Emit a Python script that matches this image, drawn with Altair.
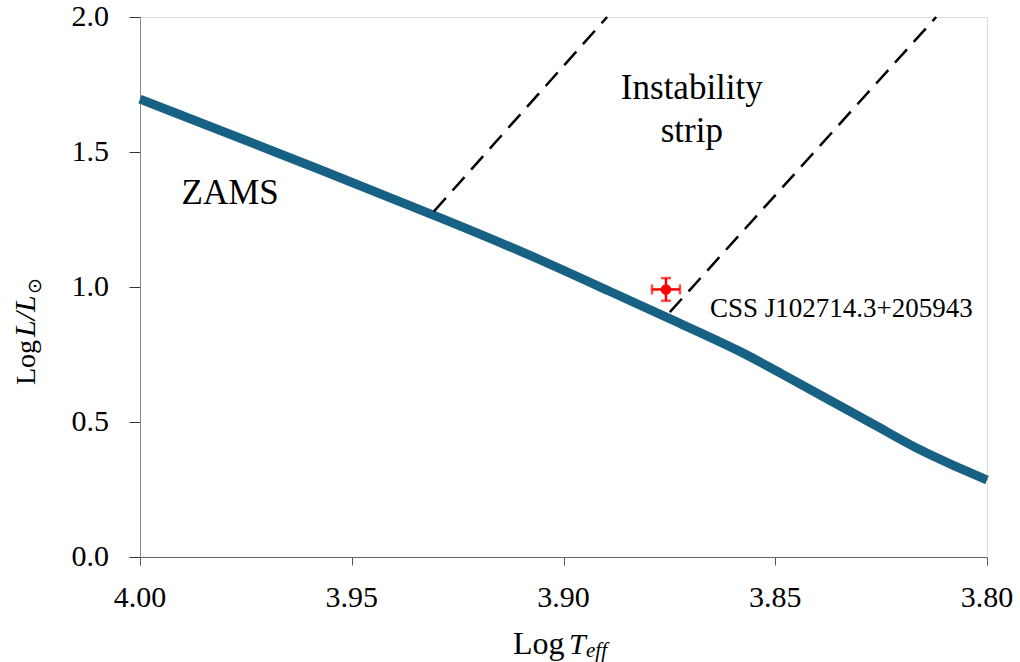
import altair as alt
import pandas as pd

# ZAMS track (log Teff, log L/Lsun)
zams_logT = [4.0000, 3.9551, 3.9268, 3.9079, 3.8890, 3.8725, 3.8583, 3.8489, 3.8394, 3.8253, 3.8158, 3.8076, 3.8000]
zams_logL = [1.696, 1.421, 1.242, 1.119, 0.983, 0.865, 0.764, 0.682, 0.600, 0.479, 0.394, 0.337, 0.285]

# Instability strip edges
strip_edge = ["blue", "blue", "red", "red"]
strip_logT = [3.9306, 3.8897, 3.8749, 3.8120]
strip_logL = [1.280, 2.000, 0.907, 2.000]

# Star
star_name = ["CSS J102714.3+205943"]
star_logT = [3.8758]
star_logL = [0.991]
star_errT = [0.0033]
star_errL = [0.042]

# Annotations
ann_text = ["ZAMS", "Instability", "strip"]
ann_logT = [3.9787, 3.8697, 3.8697]
ann_logL = [1.348, 1.737, 1.578]

x_ticks = [4.00, 3.95, 3.90, 3.85, 3.80]
x_tick_labels = ["4.00", "3.95", "3.90", "3.85", "3.80"]
y_ticks = [0.0, 0.5, 1.0, 1.5, 2.0]
y_tick_labels = ["0.0", "0.5", "1.0", "1.5", "2.0"]

FONT = "Liberation Serif"
W, H = 847, 540

xs = alt.Scale(domain=[3.8, 4.0], reverse=True, nice=False, zero=False)
ys = alt.Scale(domain=[0.0, 2.0], nice=False, zero=False)

xaxis = alt.Axis(values=x_ticks, labels=False, title=None, grid=False,
                 tickSize=8, tickColor="#555", domainColor="#666")
yaxis = alt.Axis(values=y_ticks, labels=False, title=None, grid=False,
                 tickSize=11, tickColor="#333", domainColor="#888")

zams_df = pd.DataFrame({"logT": zams_logT, "logL": zams_logL})
strip_df = pd.DataFrame({"edge": strip_edge, "logT": strip_logT, "logL": strip_logL})
star_df = pd.DataFrame({"name": star_name, "logT": star_logT, "logL": star_logL,
                        "errT": star_errT, "errL": star_errL})
star_df["tlo"] = star_df["logT"] - star_df["errT"]
star_df["thi"] = star_df["logT"] + star_df["errT"]
star_df["llo"] = star_df["logL"] - star_df["errL"]
star_df["lhi"] = star_df["logL"] + star_df["errL"]
ann_df = pd.DataFrame({"text": ann_text, "logT": ann_logT, "logL": ann_logL})
xt_df = pd.DataFrame({"v": x_ticks, "lab": x_tick_labels})
yt_df = pd.DataFrame({"v": y_ticks, "lab": y_tick_labels})

zams = alt.Chart(zams_df).mark_line(color="#176185", strokeWidth=9, interpolate="basis",
                                    strokeCap="butt").encode(
    x=alt.X("logT:Q", scale=xs, axis=xaxis),
    y=alt.Y("logL:Q", scale=ys, axis=yaxis),
    order="logT:Q",
)

strip = alt.Chart(strip_df).mark_line(color="black", strokeWidth=2.5, strokeDash=[18, 10]).encode(
    x=alt.X("logT:Q", scale=xs),
    y=alt.Y("logL:Q", scale=ys),
    detail="edge:N",
)

errx = alt.Chart(star_df).mark_rule(color="red", strokeWidth=2.5).encode(
    x=alt.X("tlo:Q", scale=xs), x2="thi:Q", y=alt.Y("logL:Q", scale=ys))
erry = alt.Chart(star_df).mark_rule(color="red", strokeWidth=2.5).encode(
    y=alt.Y("llo:Q", scale=ys), y2="lhi:Q", x=alt.X("logT:Q", scale=xs))
cap_lo_x = alt.Chart(star_df).mark_tick(color="red", orient="vertical", size=10, thickness=2.5).encode(
    x=alt.X("tlo:Q", scale=xs), y=alt.Y("logL:Q", scale=ys))
cap_hi_x = alt.Chart(star_df).mark_tick(color="red", orient="vertical", size=10, thickness=2.5).encode(
    x=alt.X("thi:Q", scale=xs), y=alt.Y("logL:Q", scale=ys))
cap_lo_y = alt.Chart(star_df).mark_tick(color="red", orient="horizontal", size=10, thickness=2.5).encode(
    x=alt.X("logT:Q", scale=xs), y=alt.Y("llo:Q", scale=ys))
cap_hi_y = alt.Chart(star_df).mark_tick(color="red", orient="horizontal", size=10, thickness=2.5).encode(
    x=alt.X("logT:Q", scale=xs), y=alt.Y("lhi:Q", scale=ys))
pt = alt.Chart(star_df).mark_point(filled=True, color="red", opacity=1, size=110, shape="circle").encode(
    x=alt.X("logT:Q", scale=xs), y=alt.Y("logL:Q", scale=ys))

star_label = alt.Chart(pd.DataFrame({"name": star_name, "logT": [3.8654], "logL": [0.919]})).mark_text(
    font=FONT, fontSize=27, align="left", baseline="middle", color="black").encode(
    x=alt.X("logT:Q", scale=xs), y=alt.Y("logL:Q", scale=ys), text="name:N")

ann = alt.Chart(ann_df).mark_text(font=FONT, fontSize=35, align="center", baseline="middle",
                                  color="black").encode(
    x=alt.X("logT:Q", scale=xs), y=alt.Y("logL:Q", scale=ys), text="text:N")

# tick labels
xlabels = alt.Chart(xt_df).mark_text(font=FONT, fontSize=30, align="center", baseline="middle",
                                     color="black").encode(
    x=alt.X("v:Q", scale=xs), y=alt.value(581), text="lab:N")
ylabels = alt.Chart(yt_df).mark_text(font=FONT, fontSize=30, align="right", baseline="middle",
                                     color="black").encode(
    y=alt.Y("v:Q", scale=ys), x=alt.value(-31), text="lab:N")

def label(txt, x, y, size, style="normal", angle=0, align="left"):
    kw = dict(text=txt, font=FONT, fontSize=size, fontStyle=style, align=align,
              baseline="alphabetic", color="black")
    if angle:
        kw["angle"] = angle
    return alt.Chart(pd.DataFrame({"a": [0]})).mark_text(**kw).encode(
        x=alt.value(x), y=alt.value(y))

# x-axis title: Log T_eff
xt1 = label("Log", 373, 637, 32)
xt2 = label("T", 429, 637, 30, "italic")
xt3 = label("eff", 446, 640, 21, "italic")
# y-axis title: Log L/L_sun (rotated)
yt1 = label("Log", -105, 368, 28, angle=270)
yt2 = label("L/L", -105, 320, 30, "italic", angle=270)
yt3 = label("\u2299", -99, 277, 19, angle=270)

chart = alt.layer(
    zams, strip, errx, erry, cap_lo_x, cap_hi_x, cap_lo_y, cap_hi_y, pt,
    star_label, ann, xlabels, ylabels, xt1, xt2, xt3, yt1, yt2, yt3
).properties(
    width=W, height=H,
    autosize=alt.AutoSizeParams(type="none"),
    padding={"left": 140, "top": 17, "right": 33, "bottom": 105},
).configure_view(stroke="#222", strokeWidth=1.2).configure(background="white")

chart.save("out.html", embed_options={"renderer": "svg", "actions": False})
